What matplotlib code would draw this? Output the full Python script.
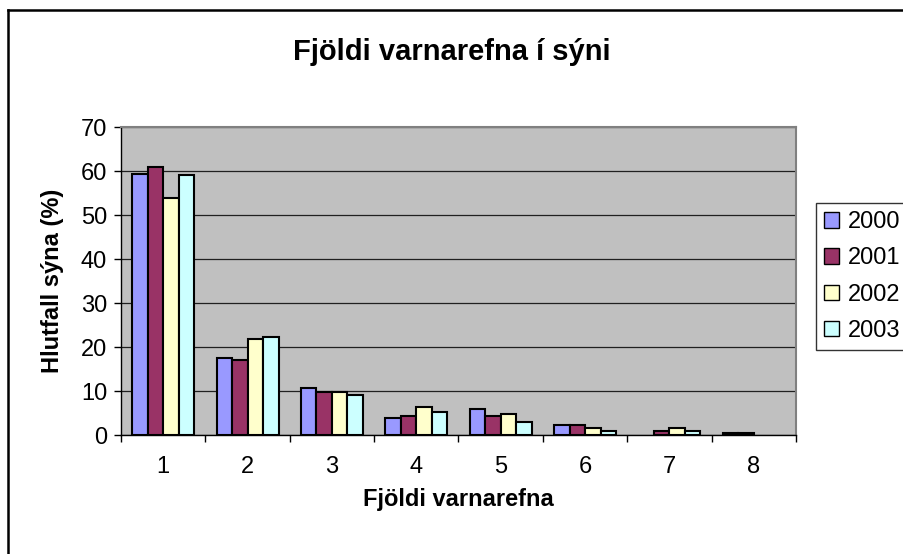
import matplotlib

matplotlib.use("Agg")
import matplotlib.pyplot as plt
import numpy as np
from matplotlib.lines import Line2D
from matplotlib.patches import Patch

plt.rcParams["font.family"] = ["Liberation Sans", "DejaVu Sans"]

categories = ["1", "2", "3", "4", "5", "6", "7", "8"]
years = ["2000", "2001", "2002", "2003"]
v2000 = [59.3, 17.5, 10.7, 3.8, 6.0, 2.3, 0.0, 0.4]
v2001 = [61.0, 17.1, 9.8, 4.3, 4.3, 2.3, 0.8, 0.4]
v2002 = [53.8, 21.8, 9.8, 6.4, 4.8, 1.7, 1.7, 0.0]
v2003 = [59.0, 22.2, 9.0, 5.2, 3.0, 0.9, 0.9, 0.0]
series = [v2000, v2001, v2002, v2003]
colors = ["#9999FF", "#993366", "#FFFFCC", "#CCFFFF"]

W, H = 904, 554
FS = 17
fig = plt.figure(figsize=(W / 100, H / 100), dpi=100)

# chart area border (only top and left visible in the reference)
fig.add_artist(Line2D([8 / W, 8 / W], [0, 1 - 10 / H], color="black", lw=1.8,
                      transform=fig.transFigure))
fig.add_artist(Line2D([8 / W, 1], [1 - 10 / H, 1 - 10 / H], color="black", lw=1.8,
                      transform=fig.transFigure))

left, right, top, bottom = 121, 796, 127, 435
ax = fig.add_axes([left / W, 1 - bottom / H, (right - left) / W, (bottom - top) / H])
ax.set_facecolor("#C0C0C0")

x = np.arange(1, len(categories) + 1)
bw = 0.184
for i, (vals, c) in enumerate(zip(series, colors)):
    vals = np.asarray(vals)
    keep = vals > 0  # empty categories draw nothing
    ax.bar(x[keep] + (i - 1.5) * bw, vals[keep], width=bw, color=c,
           edgecolor="black", linewidth=1.5, zorder=3, label=years[i])

ax.set_xlim(0.5, 8.5)
ax.set_ylim(0, 70)
ax.set_yticks(np.arange(0, 71, 10))
ax.yaxis.grid(True, color="#202020", lw=0.9, zorder=1)
ax.set_axisbelow(True)

ax.set_xticks(np.arange(0.5, 8.6, 1))
ax.set_xticklabels([])
ax.set_xticks(x, minor=True)
ax.set_xticklabels(categories, minor=True)
ax.tick_params(axis="x", which="minor", length=0, pad=15, labelsize=FS)
ax.tick_params(axis="x", which="major", length=5, width=1, direction="out")
ax.tick_params(axis="y", length=5, width=1, direction="out", labelsize=FS, pad=5)

for s in ["top", "right"]:
    ax.spines[s].set_color("#808080")
    ax.spines[s].set_linewidth(1.5)
for s in ["left", "bottom"]:
    ax.spines[s].set_color("black")
    ax.spines[s].set_linewidth(1.0)

ax.set_xlabel("Fjöldi varnarefna", fontsize=FS, fontweight="bold", labelpad=7)
ax.set_ylabel("Hlutfall sýna (%)", fontsize=FS, fontweight="bold", labelpad=12)
fig.text(0.5, 1 - 52 / H, "Fjöldi varnarefna í sýni", ha="center", va="center",
         fontsize=21, fontweight="bold")

handles = [Patch(facecolor=c, edgecolor="black", lw=1.0) for c in colors]
leg = fig.legend(handles, years, loc="upper left",
                 bbox_to_anchor=(816 / W, 1 - 203 / H), fontsize=FS,
                 frameon=True, fancybox=False, handlelength=0.62, handleheight=0.62,
                 handletextpad=0.4, labelspacing=0.6, borderpad=0.35,
                 borderaxespad=0)
leg.get_frame().set_edgecolor("black")
leg.get_frame().set_linewidth(1.0)

fig.savefig("out.png", dpi=100)
